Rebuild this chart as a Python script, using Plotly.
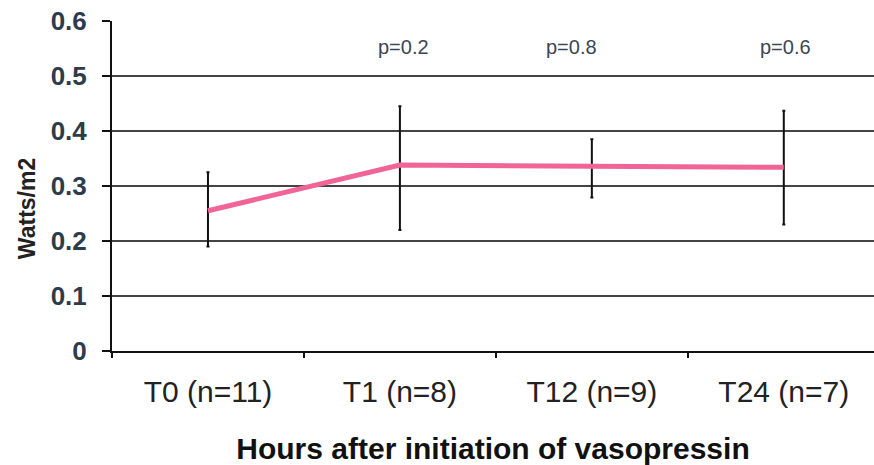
import plotly.graph_objects as go

categories = ["T0 (n=11)", "T1 (n=8)", "T12 (n=9)", "T24 (n=7)"]
means = [0.255, 0.338, 0.336, 0.334]
upper = [0.325, 0.445, 0.385, 0.437]
lower = [0.190, 0.220, 0.279, 0.230]
p_labels = ["", "p=0.2", "p=0.8", "p=0.6"]
p_shift = [0, 4, -20, 2]
y_tickvals = [0, 0.1, 0.2, 0.3, 0.4, 0.5, 0.6]
y_ticktext = ["0", "0.1", "0.2", "0.3", "0.4", "0.5", "0.6"]

err_plus = [u - m for u, m in zip(upper, means)]
err_minus = [m - l for m, l in zip(means, lower)]

fig = go.Figure()
fig.add_trace(go.Scatter(
    x=categories, y=means, mode="lines",
    line=dict(color="#f06596", width=5),
    error_y=dict(type="data", symmetric=False, array=err_plus, arrayminus=err_minus,
                 color="#111111", thickness=2, width=1.5),
    showlegend=False,
))

for c, t, s in zip(categories, p_labels, p_shift):
    if t:
        fig.add_annotation(x=c, y=0.553, text=t, showarrow=False, xshift=s,
                           font=dict(family="Liberation Sans, Arial", size=20, color="#3a4654"))

# y-axis title placed as rotated annotation (sits slightly below centre in the original)
fig.add_annotation(xref="paper", yref="paper", x=-0.1115, y=0.43, text="<b>Watts/m2</b>",
                   textangle=-90, showarrow=False, xanchor="center", yanchor="middle",
                   font=dict(family="Liberation Sans, Arial", size=23, color="#222"))

fig.update_layout(
    width=874, height=465,
    margin=dict(l=112, r=0, t=21, b=114),
    paper_bgcolor="white", plot_bgcolor="white",
    font=dict(family="Liberation Sans, Arial", color="#222"),
    xaxis=dict(
        range=[-0.5, 3.47], showgrid=False, showline=True, linecolor="#111", linewidth=2,
        ticks="outside", tickson="boundaries", ticklen=5, tickcolor="#111", tickwidth=2,
        tickfont=dict(size=30, color="#222"), ticklabelstandoff=13,
        title=dict(text="<b>Hours after initiation of vasopressin</b>", font=dict(size=30, color="#111"), standoff=31),
    ),
    yaxis=dict(
        range=[0, 0.6], tickvals=y_tickvals, ticktext=y_ticktext,
        showgrid=True, gridcolor="#444", gridwidth=2,
        showline=True, linecolor="#111", linewidth=2, zeroline=False,
        ticks="outside", ticklen=8, tickcolor="#111", tickwidth=2,
        tickfont=dict(size=26, color="#2e3b4a", weight="bold"), ticklabelstandoff=10,
    ),
)

fig.write_html("out.html")
